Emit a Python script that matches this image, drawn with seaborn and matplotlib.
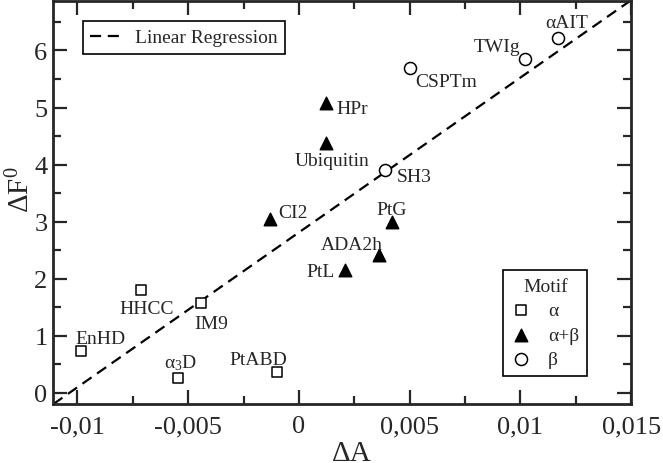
import numpy as np
import pandas as pd
import matplotlib
matplotlib.use("Agg")
import matplotlib.pyplot as plt
import seaborn as sns
from matplotlib.ticker import MultipleLocator, FuncFormatter

# protein data: change in A vs folding free energy change
proteins = ['EnHD', 'HHCC', 'IM9', r'α$_3$D', 'PtABD',
            'CI2', 'Ubiquitin', 'HPr', 'PtL', 'ADA2h', 'PtG',
            'SH3', 'CSPTm', 'TWIg', 'αAIT']
delta_a = [-0.00983, -0.00712, -0.00444, -0.00547, -0.00097,
           -0.00129, 0.00124, 0.00124, 0.00207, 0.00362, 0.00418,
           0.00388, 0.00501, 0.01021, 0.01171]
delta_f = [0.73, 1.80, 1.58, 0.25, 0.37,
           3.04, 4.37, 5.08, 2.15, 2.42, 2.99,
           3.91, 5.69, 5.85, 6.21]
motif = ['α'] * 5 + ['α+β'] * 6 + ['β'] * 4

# fitted line
reg_slope = 271.5
reg_intercept = 2.81

df = pd.DataFrame({'protein': proteins, 'dA': delta_a, 'dF': delta_f, 'motif': motif})

# label offsets (pixels) and alignment, per protein
label_pos = {
    'EnHD': (-6, 8, 'left'),
    'HHCC': (5, -23, 'center'),
    'IM9': (-6, -25, 'left'),
    r'α$_3$D': (3, 11, 'center'),
    'PtABD': (10, 8, 'right'),
    'CI2': (8, 2, 'left'),
    'Ubiquitin': (6, -22, 'center'),
    'HPr': (10, -10, 'left'),
    'PtL': (-10, -6, 'right'),
    'ADA2h': (4, 6, 'right'),
    'PtG': (0, 8, 'center'),
    'SH3': (12, -11, 'left'),
    'CSPTm': (5, -18, 'left'),
    'TWIg': (-5, 8, 'right'),
    'αAIT': (8, 11, 'center'),
}

sns.set_style("ticks")
plt.rcParams['font.family'] = ['Liberation Serif', 'DejaVu Serif']
plt.rcParams['mathtext.fontset'] = 'custom'
plt.rcParams['mathtext.rm'] = 'Liberation Serif'
plt.rcParams['mathtext.it'] = 'Liberation Serif:italic'

fig, ax = plt.subplots(figsize=(6.63, 4.64), dpi=100)
fig.subplots_adjust(left=0.080, right=0.952, top=0.996, bottom=0.127)

styles = {
    'α': dict(marker='s', s=50, facecolor='white'),
    'α+β': dict(marker='^', s=80, facecolor='black'),
    'β': dict(marker='o', s=75, facecolor='white'),
}
motif_handles = []
for m, st in styles.items():
    sub = df[df['motif'] == m]
    sns.scatterplot(data=sub, x='dA', y='dF', marker=st['marker'], s=st['s'],
                    facecolor=st['facecolor'], edgecolor='black', linewidth=1.1,
                    ax=ax, zorder=3, legend=False)
    motif_handles.append(ax.collections[-1])

reg_line = ax.axline((0, reg_intercept), slope=reg_slope, color='black',
                     lw=1.6, dashes=(5, 3), zorder=2)

for _, row in df.iterrows():
    dx, dy, ha = label_pos[row['protein']]
    ax.annotate(row['protein'], (row['dA'], row['dF']), xytext=(dx, dy),
                textcoords='offset pixels', ha=ha, va='baseline', fontsize=14)

ax.set_xlim(-0.0111, 0.015)
ax.set_ylim(-0.2, 6.87)
ax.xaxis.set_major_locator(MultipleLocator(0.005))
ax.xaxis.set_minor_locator(MultipleLocator(0.0025))
ax.yaxis.set_major_locator(MultipleLocator(1))
ax.yaxis.set_minor_locator(MultipleLocator(0.5))
ax.xaxis.set_major_formatter(FuncFormatter(lambda v, p: f"{v:g}".replace('.', ',')))
ax.tick_params(which='both', direction='in', top=True, right=True, width=1.6,
               labelsize=19)
ax.tick_params(axis='x', which='both', pad=8)
ax.tick_params(axis='y', which='both', pad=4)
ax.tick_params(which='major', length=10)
ax.tick_params(which='minor', length=6)
for sp in ax.spines.values():
    sp.set_linewidth(2)

ax.set_xlabel('ΔA', fontsize=21, labelpad=2, x=0.516)
ax.set_ylabel('ΔF$^0$', fontsize=21, labelpad=-1, y=0.535)

leg1 = ax.legend([reg_line], ['Linear Regression'], loc='upper left',
                 bbox_to_anchor=(0.051, 0.950), borderaxespad=0, fontsize=14,
                 fancybox=False, edgecolor='black', framealpha=1,
                 handlelength=1.7, handletextpad=0.6)
leg1.get_frame().set_linewidth(1.2)
ax.add_artist(leg1)

leg2 = ax.legend(motif_handles, list(styles.keys()), title='Motif',
                 loc='lower right', bbox_to_anchor=(0.924, 0.070),
                 borderaxespad=0, fontsize=14, title_fontsize=14,
                 fancybox=False, edgecolor='black', framealpha=1,
                 handlelength=1.0, handletextpad=0.9, labelspacing=0.35)
leg2.get_frame().set_linewidth(1.2)

fig.savefig('out.png', dpi=100)
